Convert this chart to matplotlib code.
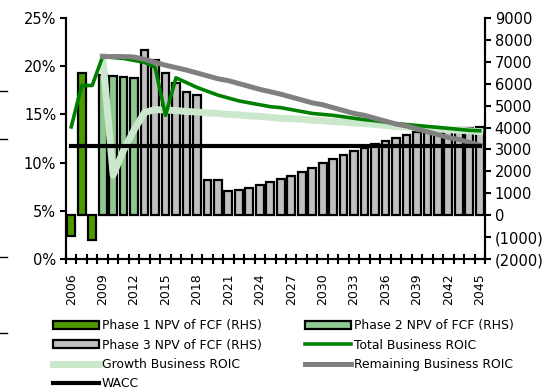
import matplotlib
matplotlib.use("Agg")
import matplotlib.pyplot as plt
from matplotlib.lines import Line2D
from matplotlib.patches import Patch
from matplotlib.ticker import FuncFormatter, MultipleLocator

plt.rcParams["font.family"] = ["DejaVu Sans"]

# NPV of free cash flow by phase (RHS units)
phase1_years = [2006, 2007, 2008]
phase1_npv = [-950, 6500, -1150]
phase2_years = [2009, 2010, 2011, 2012]
phase2_npv = [6400, 6330, 6290, 6260]
phase3_years = list(range(2013, 2046))
phase3_npv = [7550, 7100, 6500, 6050, 5600, 5470,
              1600, 1600, 1100, 1170, 1260, 1360, 1510, 1640, 1800, 1970,
              2150, 2360, 2550, 2740, 2920, 3080, 3270, 3400, 3530, 3680,
              3790, 3850, 3900, 3950, 4000, 4000, 4020]

# returns (%)
years = list(range(2006, 2046))
total_roic = [13.7, 18.0, 18.0, 21.0, 20.9, 20.8, 20.6, 20.4, 19.9, 14.9,
              18.8, 18.3, 17.8, 17.4, 17.0, 16.7, 16.4, 16.2, 16.0, 15.8,
              15.7, 15.5, 15.3, 15.1, 15.0, 14.9, 14.75, 14.6, 14.45, 14.35,
              14.2, 14.05, 13.95, 13.85, 13.75, 13.65, 13.55, 13.45, 13.35, 13.3]
roic_years = list(range(2009, 2046))
growth_roic = [21.0, 8.7, 11.3, 13.4, 15.2, 15.5, 15.45, 15.4, 15.3, 15.25,
               15.15, 15.1, 15.0, 14.95, 14.85, 14.8, 14.7, 14.6, 14.55, 14.5,
               14.4, 14.35, 14.25, 14.2, 14.1, 14.05, 13.95, 13.85, 13.75, 13.7,
               13.6, 13.55, 13.5, 13.4, 13.35, 13.3, 13.2]
remaining_roic = [21.0, 21.0, 21.0, 20.95, 20.7, 20.4, 20.1, 19.85, 19.6, 19.3,
                  19.0, 18.7, 18.5, 18.2, 17.9, 17.6, 17.35, 17.1, 16.8, 16.5,
                  16.2, 16.0, 15.7, 15.4, 15.1, 14.9, 14.6, 14.3, 14.0, 13.8,
                  13.5, 13.2, 12.9, 12.6, 12.4, 12.1, 11.8]
wacc = 11.7

c_p1 = "#4c9a00"
c_p2 = "#8fc98f"
c_p3 = "#c0c0c0"
c_total = "#008000"
c_growth = "#cce8cc"
c_remaining = "#808080"

fig = plt.figure(figsize=(5.47, 3.87), dpi=100)
ax = fig.add_axes([66 / 547, 1 - 259 / 387, (485 - 66) / 547, (259 - 18) / 387])
ax2 = ax.twinx()
ax.set_zorder(ax2.get_zorder() + 1)
ax.patch.set_visible(False)

bar_kw = dict(width=0.74, edgecolor="black", linewidth=1.6)
ax2.bar(phase1_years, phase1_npv, color=c_p1, **bar_kw)
ax2.bar(phase2_years, phase2_npv, color=c_p2, **bar_kw)
ax2.bar(phase3_years, phase3_npv, color=c_p3, **bar_kw)

ax.plot(roic_years, growth_roic, color=c_growth, lw=5, solid_joinstyle="round")
ax.plot(years, total_roic, color=c_total, lw=2.6)
ax.plot(roic_years, remaining_roic, color=c_remaining, lw=3.6)
ax.plot(years, [wacc] * len(years), color="black", lw=3)

ax.set_xlim(2005.5, 2045.5)
ax.set_ylim(0, 25)
ax2.set_ylim(-2000, 9000)

ax.yaxis.set_major_locator(MultipleLocator(5))
ax.yaxis.set_major_formatter(FuncFormatter(lambda v, p: f"{v:.0f}%"))
ax2.yaxis.set_major_locator(MultipleLocator(1000))
ax2.yaxis.set_major_formatter(
    FuncFormatter(lambda v, p: f"({-v:.0f})" if v < 0 else f"{v:.0f}"))

ax.set_xticks(years[::3])
ax.set_xticklabels([str(y) for y in years[::3]], rotation=90)
ax.set_xticks([y + 0.5 for y in range(2005, 2046)], minor=True)
ax.tick_params(axis="x", which="major", length=0, pad=10, labelsize=9)
ax.tick_params(axis="x", which="minor", direction="inout", length=7, width=1.5)
ax.tick_params(axis="y", length=4, width=1.5, labelsize=10.5, pad=3)
ax2.tick_params(axis="y", length=4, width=1.5, labelsize=10.5, pad=3)

for a in (ax, ax2):
    a.spines["top"].set_visible(False)
    for s in ("left", "right", "bottom"):
        a.spines[s].set_linewidth(1.5)

handles = [
    Patch(facecolor=c_p1, edgecolor="black", linewidth=1.6),
    Patch(facecolor=c_p3, edgecolor="black", linewidth=1.6),
    Line2D([], [], color=c_growth, lw=5),
    Line2D([], [], color="black", lw=3),
    Patch(facecolor=c_p2, edgecolor="black", linewidth=1.6),
    Line2D([], [], color=c_total, lw=2.6),
    Line2D([], [], color=c_remaining, lw=3.6),
]
labels = [
    "Phase 1 NPV of FCF (RHS)",
    "Phase 3 NPV of FCF (RHS)",
    "Growth Business ROIC",
    "WACC",
    "Phase 2 NPV of FCF (RHS)",
    "Total Business ROIC",
    "Remaining Business ROIC",
]
fig.legend(handles, labels, ncol=2, loc="upper left",
           bbox_to_anchor=(47 / 547, 1 - 313 / 387), frameon=False,
           fontsize=8.9, borderpad=0, handlelength=3.7, handleheight=0.6,
           handletextpad=0.25, labelspacing=0.52, columnspacing=3.5)

# rules from the neighbouring column
for y in (90.7, 139, 256.7, 333):
    fig.add_artist(Line2D([0, 7 / 547], [1 - y / 387, 1 - y / 387],
                          transform=fig.transFigure, color="black", lw=1))

fig.savefig("out.png", dpi=100)
